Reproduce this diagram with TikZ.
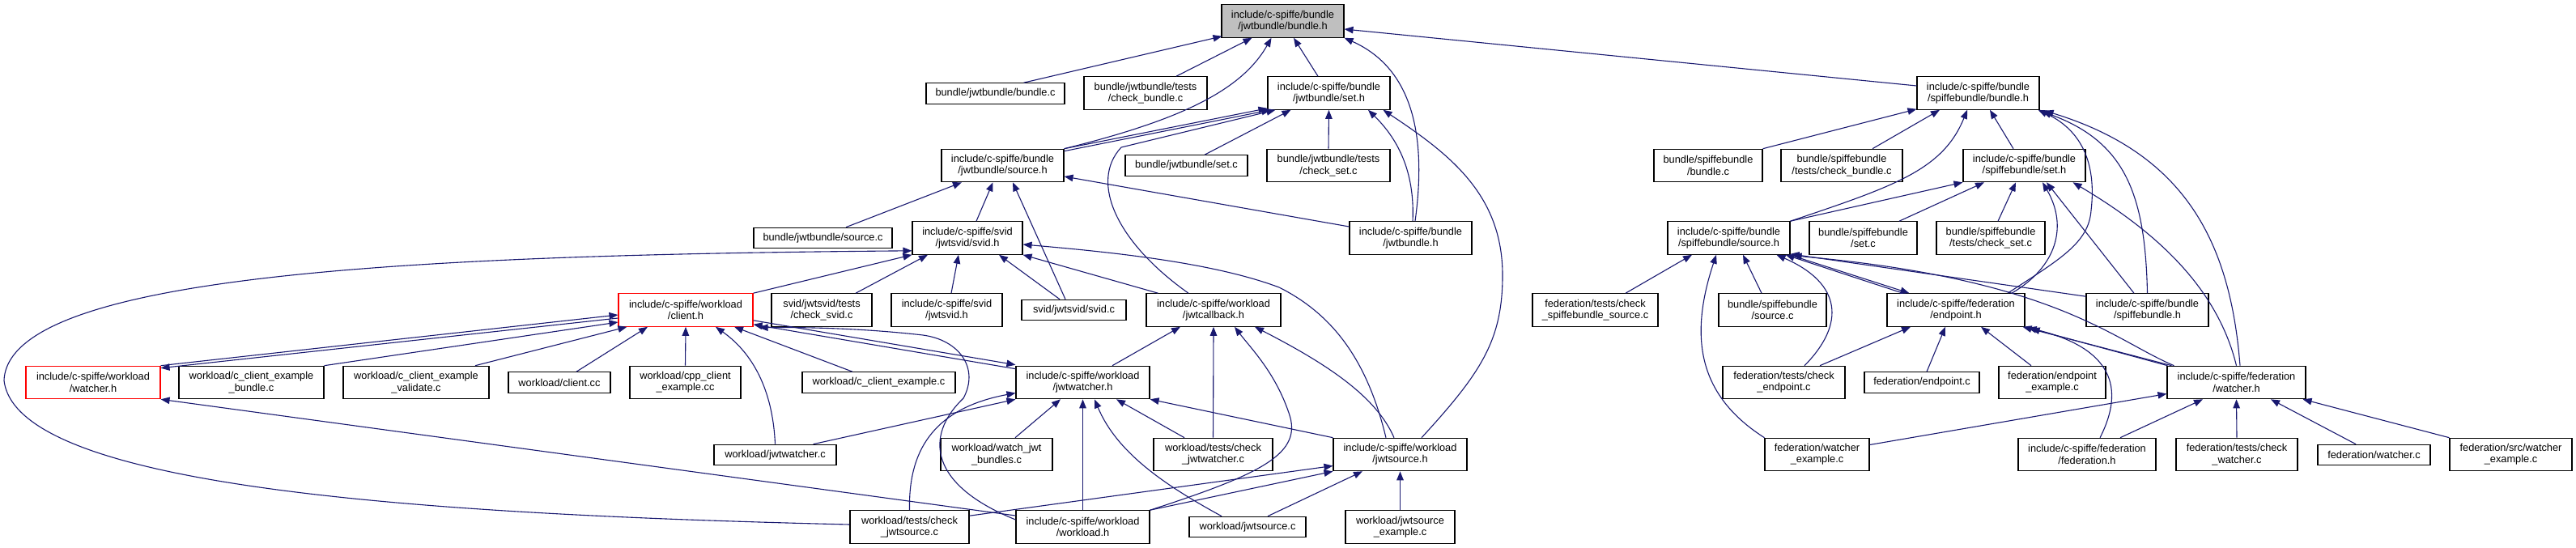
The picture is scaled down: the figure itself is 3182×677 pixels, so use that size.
\documentclass[tikz,border=0pt]{standalone}
\usepackage{fontspec}
\setmainfont{Liberation Sans}
\usetikzlibrary{arrows.meta}
\definecolor{edgecol}{HTML}{191970}
\definecolor{boxgray}{HTML}{BFBFBF}
\begin{document}
\begin{tikzpicture}[x=1pt,y=-1pt,
  box/.style={draw=black, line width=1.1pt, fill=white, inner sep=0pt, align=center,
    font=\fontsize{12.8}{14.3}\selectfont},
  bw/.style={minimum width=#1pt},
  tl/.style={minimum height=40.5pt},
  sl/.style={minimum height=25.5pt},
  redbox/.style={draw=red},
  edge/.style={draw=edgecol, line width=1.1pt, -{Triangle[length=11pt,width=8.5pt]}}]
\useasboundingbox (0,0) rectangle (3182,677);
% ---- nodes ----
\node[box,bw=151,tl,fill=boxgray] (M) at (1584.5,26) {include/c-spiffe/bundle\\/jwtbundle/bundle.h};
\node[box,bw=171,sl] (jbundle_c) at (1229.5,115.5) {bundle/jwtbundle/bundle.c};
\node[box,bw=152,tl] (jcheck_bundle) at (1415,115) {bundle/jwtbundle/tests\\/check\_bundle.c};
\node[box,bw=151,tl] (jset_h) at (1641.5,115) {include/c-spiffe/bundle\\/jwtbundle/set.h};
\node[box,bw=151,tl] (jsource_h) at (1238.5,204.5) {include/c-spiffe/bundle\\/jwtbundle/source.h};
\node[box,bw=151,sl] (jset_c) at (1465.5,204.5) {bundle/jwtbundle/set.c};
\node[box,bw=152,tl] (jcheck_set) at (1641,204.5) {bundle/jwtbundle/tests\\/check\_set.c};
\node[box,bw=171,sl] (jsource_c) at (1016.5,294) {bundle/jwtbundle/source.c};
\node[box,bw=136,tl] (svid_h) at (1195,294) {include/c-spiffe/svid\\/jwtsvid/svid.h};
\node[box,bw=151,tl] (jwtbundle_h) at (1742.5,294) {include/c-spiffe/bundle\\/jwtbundle.h};
\node[box,bw=134,tl] (sbundle_c) at (2110,204.5) {bundle/spiffebundle\\/bundle.c};
\node[box,bw=150,tl] (scheck_bundle) at (2275,204.5) {bundle/spiffebundle\\/tests/check\_bundle.c};
\node[box,bw=151,tl] (ssource_h) at (2135.5,294) {include/c-spiffe/bundle\\/spiffebundle/source.h};
\node[box,bw=133,tl] (sset_c) at (2301.5,294) {bundle/spiffebundle\\/set.c};
\node[box,bw=151,tl] (sB) at (2443.5,115) {include/c-spiffe/bundle\\/spiffebundle/bundle.h};
\node[box,bw=151,tl] (sset_h) at (2500.5,204.5) {include/c-spiffe/bundle\\/spiffebundle/set.h};
\node[box,bw=134,tl] (scheck_set) at (2459,294) {bundle/spiffebundle\\/tests/check\_set.c};
\node[box,redbox,bw=166,tl] (wwatcher_h) at (115,472.5) {include/c-spiffe/workload\\/watcher.h};
\node[box,bw=179,tl] (cbundle) at (310.5,472.5) {workload/c\_client\_example\\\_bundle.c};
\node[box,bw=180,tl] (cvalidate) at (514,472.5) {workload/c\_client\_example\\\_validate.c};
\node[box,bw=126,sl] (client_cc) at (691,472.5) {workload/client.cc};
\node[box,redbox,bw=166,tl] (client_h) at (847,383) {include/c-spiffe/workload\\/client.h};
\node[box,bw=124,tl] (check_svid) at (1015,383) {svid/jwtsvid/tests\\/check\_svid.c};
\node[box,bw=137,tl] (jwtsvid_h) at (1169.5,383) {include/c-spiffe/svid\\/jwtsvid.h};
\node[box,bw=129,sl] (svid_c) at (1326.5,383) {svid/jwtsvid/svid.c};
\node[box,bw=166,tl] (jcallback) at (1499,383) {include/c-spiffe/workload\\/jwtcallback.h};
\node[box,bw=137,tl] (cpp_client) at (846.5,472.5) {workload/cpp\_client\\\_example.cc};
\node[box,bw=189,sl] (cexample) at (1085.5,472.5) {workload/c\_client\_example.c};
\node[box,bw=165,tl] (jwatcher_h) at (1337.5,472.5) {include/c-spiffe/workload\\/jwtwatcher.h};
\node[box,bw=151,sl] (jwatcher_c) at (957.5,562) {workload/jwtwatcher.c};
\node[box,bw=138,tl] (watch_jwt) at (1231,561.5) {workload/watch\_jwt\\\_bundles.c};
\node[box,bw=147,tl] (check_jwatcher) at (1498.5,561.5) {workload/tests/check\\\_jwtwatcher.c};
\node[box,bw=147,tl] (check_jsource) at (1123.5,651) {workload/tests/check\\\_jwtsource.c};
\node[box,bw=165,tl] (workload_h) at (1337.5,651) {include/c-spiffe/workload\\/workload.h};
\node[box,bw=144,sl] (wjsource_c) at (1541,651) {workload/jwtsource.c};
\node[box,bw=165,tl] (jwtsource_h) at (1729.5,561.5) {include/c-spiffe/workload\\/jwtsource.h};
\node[box,bw=135,tl] (jsource_ex) at (1729.5,651) {workload/jwtsource\\\_example.c};
\node[box,bw=155,tl] (fcheck_ssrc) at (1970.5,383) {federation/tests/check\\\_spiffebundle\_source.c};
\node[box,bw=133,tl] (ssource_c) at (2189.5,383) {bundle/spiffebundle\\/source.c};
\node[box,bw=170,tl] (endpoint_h) at (2416,383) {include/c-spiffe/federation\\/endpoint.h};
\node[box,bw=151,tl] (check_endpoint) at (2203.5,472.5) {federation/tests/check\\\_endpoint.c};
\node[box,bw=142,sl] (fendpoint_c) at (2374,472.5) {federation/endpoint.c};
\node[box,bw=129,tl] (fwatcher_ex) at (2244.5,561.5) {federation/watcher\\\_example.c};
\node[box,bw=151,tl] (spiffebundle_h) at (2652.5,383) {include/c-spiffe/bundle\\/spiffebundle.h};
\node[box,bw=132,tl] (fendpoint_ex) at (2535,472.5) {federation/endpoint\\\_example.c};
\node[box,bw=171,tl] (fwatcher_h) at (2762.5,472.5) {include/c-spiffe/federation\\/watcher.h};
\node[box,bw=170,tl] (federation_h) at (2578,561.5) {include/c-spiffe/federation\\/federation.h};
\node[box,bw=150,tl] (check_watcher) at (2763,561.5) {federation/tests/check\\\_watcher.c};
\node[box,bw=139,sl] (fwatcher_c) at (2932.5,562) {federation/watcher.c};
\node[box,bw=151,tl] (fsrc_ex) at (3101.5,561.5) {federation/src/watcher\\\_example.c};
% ---- edges into jwtbundle/bundle.h ----
\draw[edge] ([xshift=35pt]jbundle_c.north) -- ([xshift=1pt,yshift=2pt]M.south west);
\draw[edge] ([xshift=38pt]jcheck_bundle.north) -- ([xshift=-38pt]M.south);
\draw[edge] (jsource_h.north east) .. controls (1460,148) and (1534,111) .. ([xshift=-14pt]M.south);
\draw[edge] ([xshift=-13.5pt]jset_h.north) -- ([xshift=13.5pt]M.south);
\draw[edge] ([xshift=5.5pt]jwtbundle_h.north) .. controls (1765,150) and (1735,80) .. (M.south east);
\draw[edge] ([yshift=9pt]sB.west) -- ([yshift=-10pt]M.east);
% ---- into jwtbundle/set.h ----
\draw[edge] (jsource_h.north east) -- ([yshift=2pt]jset_h.south west);
\draw[edge] ([yshift=-3pt]jsource_h.north east) -- ([xshift=4pt]jset_h.south west);
\draw[edge] ([xshift=-31pt]jcallback.north) .. controls (1380,300) and (1345,225) .. (1385,182) -- ([xshift=10pt]jset_h.south west);
\draw[edge] ([xshift=22.5pt]jset_c.north) -- ([xshift=-47pt]jset_h.south);
\draw[edge] (jcheck_set.north) -- (jset_h.south);
\draw[edge] ([xshift=2.5pt]jwtbundle_h.north) .. controls (1748,210) and (1725,170) .. ([xshift=48.5pt]jset_h.south);
\draw[edge] ([xshift=26.5pt]jwtsource_h.north) .. controls (1830,460) and (1856,420) .. (1856,340) .. controls (1856,240) and (1790,190) .. ([xshift=67pt]jset_h.south);
% ---- into jwtbundle/source.h ----
\draw[edge] ([xshift=28.5pt]jsource_c.north) -- ([xshift=-50.5pt]jsource_h.south);
\draw[edge] ([xshift=11pt]svid_h.north) -- ([xshift=-12pt]jsource_h.south);
\draw[edge] ([xshift=-10.5pt]svid_c.north) -- ([xshift=12.5pt]jsource_h.south);
\draw[edge] ([yshift=14pt]jwtbundle_h.west) -- ([yshift=-13.5pt]jsource_h.east);
% ---- into svid.h ----
\draw[edge] (client_h.north east) -- (svid_h.south west);
\draw[edge] ([xshift=42pt]check_svid.north) -- ([xshift=-49pt]svid_h.south);
\draw[edge] ([xshift=5.5pt]jwtsvid_h.north) -- ([xshift=-11pt]svid_h.south);
\draw[edge] ([xshift=-17.5pt]svid_c.north) -- ([xshift=39pt]svid_h.south);
\draw[edge] ([xshift=15pt]jcallback.north west) -- (svid_h.south east);
\draw[edge] ([xshift=-17.5pt]jwtsource_h.north) .. controls (1690,450) and (1650,390) .. (1580,355) .. controls (1500,325) and (1380,312) .. ([yshift=-8pt]svid_h.east);
\draw[edge] ([yshift=3pt]check_jsource.west) .. controls (500,635) and (20,600) .. (5,470) .. controls (10,340) and (500,315) .. ([yshift=5pt]svid_h.south west);
% ---- into client.h / watcher.h ----
\draw[edge] (wwatcher_h.north east) -- ([yshift=-6pt]client_h.west);
\draw[edge] ([yshift=-10pt]client_h.west) -- ([yshift=-3pt]wwatcher_h.north east);
\draw[edge] (cbundle.north east) -- ([yshift=-15pt]client_h.west);
\draw[edge] ([xshift=73pt]cvalidate.north) -- ([xshift=11pt]client_h.south west);
\draw[edge] ([xshift=21pt]client_cc.north) -- ([xshift=-47pt]client_h.south);
\draw[edge] (cpp_client.north) -- (client_h.south);
\draw[edge] (jwatcher_c.north) .. controls (955,490) and (935,440) .. ([xshift=37pt]client_h.south);
\draw[edge] ([xshift=-32.5pt]cexample.north) -- ([xshift=60pt]client_h.south);
\draw[edge] ([yshift=-4pt]jwatcher_h.north west) -- ([yshift=3pt]client_h.south east);
\draw[edge] ([yshift=8pt]client_h.south east) -- ([yshift=1pt]jwatcher_h.north west);
\draw[edge] ([yshift=9pt]workload_h.west) .. controls (1150,600) and (1140,540) .. (1190,492) .. controls (1210,455) and (1185,420) .. (1140,414) .. controls (1070,406) and (1000,404) .. ([xshift=7pt,yshift=-1pt]client_h.south east);
\draw[edge] ([yshift=14pt]workload_h.west) -- (wwatcher_h.south east);
% ---- into jwtcallback.h ----
\draw[edge] ([xshift=36.5pt]jwatcher_h.north) -- ([xshift=-41pt]jcallback.south);
\draw[edge] (check_jwatcher.north) -- (jcallback.south);
\draw[edge] (workload_h.north east) .. controls (1560,585) and (1610,560) .. (1592,510) .. controls (1575,460) and (1545,430) .. ([xshift=26pt]jcallback.south);
\draw[edge] ([xshift=-7.5pt]jwtsource_h.north) .. controls (1700,490) and (1640,450) .. ([xshift=51pt]jcallback.south);
% ---- into jwtwatcher.h ----
\draw[edge] ([xshift=-29pt]jwatcher_c.north east) -- (jwatcher_h.south west);
\draw[edge] (check_jsource.north) .. controls (1122,560) and (1150,505) .. ([yshift=-13pt]jwatcher_h.west);
\draw[edge] ([xshift=23pt]watch_jwt.north) -- ([xshift=-27.5pt]jwatcher_h.south);
\draw[edge] (workload_h.north) -- (jwatcher_h.south);
\draw[edge] ([xshift=-32pt]wjsource_c.north) .. controls (1440,600) and (1380,560) .. ([xshift=14.5pt]jwatcher_h.south);
\draw[edge] ([xshift=-35.5pt]check_jwatcher.north) -- ([xshift=41.5pt]jwatcher_h.south);
\draw[edge] (jwtsource_h.north west) -- (jwatcher_h.south east);
% ---- into jwtsource.h ----
\draw[edge] ([yshift=-7pt]check_jsource.north east) -- ([yshift=-14pt]jwtsource_h.west);
\draw[edge] (workload_h.north east) -- (jwtsource_h.south west);
\draw[edge] ([xshift=25pt]wjsource_c.north) -- ([xshift=-46.5pt]jwtsource_h.south);
\draw[edge] (jsource_ex.north) -- (jwtsource_h.south);
% ---- into spiffebundle/bundle.h ----
\draw[edge] (sbundle_c.north east) -- ([yshift=1pt]sB.south west);
\draw[edge] ([xshift=38pt]scheck_bundle.north) -- ([xshift=-47.5pt]sB.south);
\draw[edge] (ssource_h.north east) .. controls (2340,230) and (2400,210) .. ([xshift=-13.5pt]sB.south);
\draw[edge] ([xshift=-13.5pt]sset_h.north) -- ([xshift=14.5pt]sB.south);
\draw[edge] ([xshift=64pt]endpoint_h.north) .. controls (2545,320) and (2580,300) .. (2583,260) .. controls (2590,200) and (2570,160) .. ([xshift=-2pt]sB.south east);
\draw[edge] (spiffebundle_h.north) .. controls (2650,240) and (2625,175) .. ([xshift=3pt,yshift=-2pt]sB.south east);
\draw[edge] ([xshift=4.5pt]fwatcher_h.north) .. controls (2755,300) and (2700,190) .. ([xshift=6pt,yshift=-1pt]sB.south east);
% ---- into spiffebundle/set.h ----
\draw[edge] (ssource_h.north east) -- (sset_h.south west);
\draw[edge] ([xshift=44.5pt]sset_c.north) -- ([xshift=-49.5pt]sset_h.south);
\draw[edge] ([xshift=9pt]scheck_set.north) -- ([xshift=-10.5pt]sset_h.south);
\draw[edge] ([xshift=69pt]endpoint_h.north) .. controls (2540,330) and (2555,280) .. ([xshift=22.5pt]sset_h.south);
\draw[edge] ([xshift=-16.5pt]spiffebundle_h.north) -- ([xshift=27.5pt]sset_h.south);
\draw[edge] (fwatcher_h.north) .. controls (2740,360) and (2670,290) .. ([xshift=60pt]sset_h.south);
% ---- into spiffebundle/source.h ----
\draw[edge] ([xshift=37.5pt]fcheck_ssrc.north) -- ([xshift=-45.5pt]ssource_h.south);
\draw[edge] ([xshift=-13.5pt]ssource_c.north) -- ([xshift=17.5pt]ssource_h.south);
\draw[edge] ([xshift=25.5pt]check_endpoint.north) .. controls (2280,400) and (2275,350) .. ([xshift=59pt]ssource_h.south);
\draw[edge] ([xshift=20pt]endpoint_h.north west) -- ([xshift=-6pt]ssource_h.south east);
\draw[edge] ([xshift=-1pt]ssource_h.south east) -- ([xshift=28pt]endpoint_h.north west);
\draw[edge] ([yshift=-4pt]spiffebundle_h.north west) -- ([yshift=1pt]ssource_h.south east);
\draw[edge] ([xshift=9pt]fwatcher_h.north west) .. controls (2610,420) and (2540,345) .. ([xshift=3pt,yshift=-1pt]ssource_h.south east);
\draw[edge] (fwatcher_ex.north west) .. controls (2100,490) and (2085,420) .. ([xshift=-15.5pt]ssource_h.south);
% ---- into endpoint.h ----
\draw[edge] ([xshift=44.5pt]check_endpoint.north) -- ([xshift=-56pt]endpoint_h.south);
\draw[edge] ([xshift=6pt]fendpoint_c.north) -- ([xshift=-13pt]endpoint_h.south);
\draw[edge] ([xshift=-26pt]fendpoint_ex.north) -- ([xshift=31pt]endpoint_h.south);
\draw[edge] ([xshift=6pt]fwatcher_h.north west) -- ([xshift=-3pt]endpoint_h.south east);
\draw[edge] ([xshift=1pt]fwatcher_h.north west) -- ([xshift=7pt,yshift=-2pt]endpoint_h.south east);
\draw[edge] ([xshift=16pt]federation_h.north) .. controls (2625,480) and (2610,430) .. ([xshift=3pt,yshift=-1pt]endpoint_h.south east);
% ---- into federation/watcher.h ----
\draw[edge] ([yshift=12pt]fwatcher_ex.east) -- ([yshift=-14pt]fwatcher_h.west);
\draw[edge] ([xshift=41pt]federation_h.north) -- ([xshift=-41.5pt]fwatcher_h.south);
\draw[edge] (check_watcher.north) -- (fwatcher_h.south);
\draw[edge] ([xshift=-22.5pt]fwatcher_c.north) -- ([xshift=42.5pt]fwatcher_h.south);
\draw[edge] (fsrc_ex.north west) -- ([xshift=-4pt]fwatcher_h.south east);
\end{tikzpicture}
\end{document}
